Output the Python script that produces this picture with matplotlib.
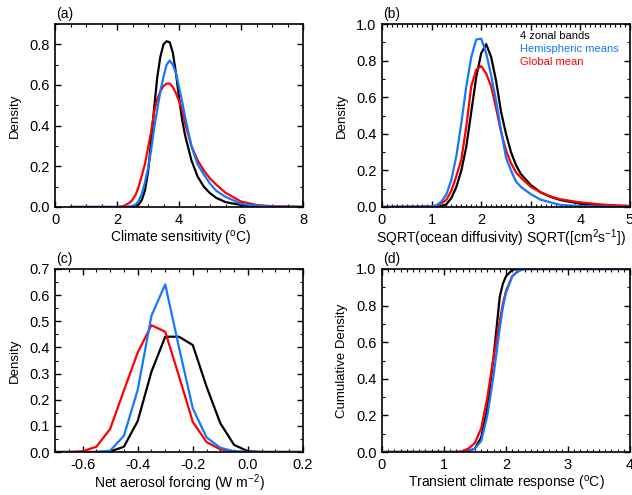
import matplotlib
matplotlib.use('Agg')
import matplotlib.pyplot as plt
from matplotlib.ticker import MultipleLocator, FormatStrFormatter

plt.rcParams['font.family'] = ['Liberation Sans', 'DejaVu Sans']
plt.rcParams['mathtext.fontset'] = 'custom'
plt.rcParams['mathtext.rm'] = 'Liberation Sans'
plt.rcParams['mathtext.it'] = 'Liberation Sans'
plt.rcParams['mathtext.default'] = 'regular'
plt.rcParams['axes.unicode_minus'] = False

BLACK = 'black'
BLUE = '#1478ff'
RED = '#ff0000'

# (a) climate sensitivity pdf
cs_x = [0.5, 2.0, 2.2, 2.4, 2.5, 2.6, 2.7, 2.8, 2.9, 3.0, 3.1, 3.2, 3.3, 3.4, 3.5, 3.6, 3.7, 3.8,
        3.9, 4.0, 4.1, 4.2, 4.4, 4.6, 4.8, 5.0, 5.2, 5.5, 6.0, 6.5, 7.0, 8.0]
cs_zonal = [0, 0, 0, 0, 0.001, 0.004, 0.012, 0.035, 0.08, 0.17, 0.32, 0.49, 0.64, 0.74, 0.80, 0.815, 0.81, 0.76,
            0.66, 0.54, 0.43, 0.35, 0.23, 0.15, 0.1, 0.068, 0.045, 0.024, 0.01, 0.004, 0.001, 0]
cs_hemi = [0, 0, 0, 0.002, 0.005, 0.012, 0.03, 0.065, 0.12, 0.19, 0.28, 0.39, 0.48, 0.57, 0.64, 0.70, 0.72, 0.70,
           0.66, 0.59, 0.52, 0.44, 0.30, 0.21, 0.16, 0.115, 0.08, 0.05, 0.016, 0.006, 0.002, 0]
cs_global = [0, 0, 0.004, 0.02, 0.035, 0.06, 0.1, 0.155, 0.21, 0.29, 0.37, 0.47, 0.53, 0.57, 0.595, 0.607, 0.607, 0.59,
             0.56, 0.52, 0.48, 0.41, 0.30, 0.23, 0.18, 0.14, 0.11, 0.07, 0.027, 0.01, 0.004, 0.001]

# (b) sqrt ocean diffusivity pdf
kv_x = [0.05, 1.0, 1.1, 1.2, 1.3, 1.4, 1.5, 1.6, 1.7, 1.8, 1.9, 2.0, 2.1, 2.2, 2.3, 2.4, 2.5, 2.6,
        2.7, 2.8, 3.0, 3.2, 3.4, 3.6, 4.0, 4.5, 5.0]
kv_zonal = [0, 0, 0.002, 0.005, 0.015, 0.05, 0.11, 0.2, 0.33, 0.52, 0.71, 0.84, 0.89, 0.82, 0.69, 0.52, 0.40, 0.30,
            0.23, 0.18, 0.12, 0.08, 0.055, 0.038, 0.018, 0.007, 0.003]
kv_hemi = [0, 0.003, 0.01, 0.03, 0.07, 0.15, 0.28, 0.46, 0.66, 0.82, 0.915, 0.92, 0.84, 0.72, 0.58, 0.42, 0.27, 0.20,
           0.14, 0.11, 0.07, 0.04, 0.025, 0.011, 0.005, 0.002, 0]
kv_global = [0, 0.003, 0.008, 0.02, 0.04, 0.09, 0.17, 0.26, 0.44, 0.66, 0.75, 0.77, 0.73, 0.66, 0.54, 0.41, 0.31, 0.24,
             0.19, 0.16, 0.11, 0.08, 0.058, 0.042, 0.025, 0.012, 0.006]

# (c) net aerosol forcing pdf
af_x = [-0.7, -0.65, -0.6, -0.55, -0.5, -0.45, -0.4, -0.35, -0.3, -0.25, -0.2, -0.15, -0.1, -0.05, 0.0,
        0.05, 0.1, 0.15, 0.2]
af_zonal = [0, 0, 0, 0, 0.002, 0.02, 0.118, 0.307, 0.441, 0.441, 0.409, 0.25, 0.11, 0.027, 0.003,
            0, 0, 0, 0]
af_hemi = [0, 0, 0, 0, 0.005, 0.062, 0.237, 0.521, 0.641, 0.40, 0.167, 0.056, 0.016, 0.003, 0,
           0, 0, 0, 0]
af_global = [0, 0, 0.003, 0.02, 0.088, 0.235, 0.38, 0.485, 0.46, 0.29, 0.115, 0.038, 0.01, 0.002, 0,
             0, 0, 0, 0]

# (d) transient climate response cdf
tcr_x = [0.05, 1.2, 1.3, 1.4, 1.5, 1.6, 1.7, 1.8, 1.9, 1.95, 2.0, 2.1, 2.2, 2.3, 2.4, 4.0]
tcr_zonal = [0, 0, 0, 0.005, 0.02, 0.08, 0.24, 0.52, 0.85, 0.92, 0.96, 0.995, 1.0, 1.0, 1.0, 1.0]
tcr_hemi = [0, 0, 0, 0.003, 0.02, 0.06, 0.2, 0.42, 0.68, 0.79, 0.87, 0.96, 0.99, 1.0, 1.0, 1.0]
tcr_global = [0, 0, 0.005, 0.02, 0.05, 0.13, 0.3, 0.52, 0.72, 0.81, 0.88, 0.96, 0.99, 1.0, 1.0, 1.0]

legend_names = ['4 zonal bands', 'Hemispheric means', 'Global mean']

fig = plt.figure(figsize=(6.32, 4.95), dpi=100)
W, H = 632.0, 495.0
axa = fig.add_axes([55 / W, (H - 207) / H, 248 / W, 183 / H])
axb = fig.add_axes([382 / W, (H - 207) / H, 248 / W, 183 / H])
axc = fig.add_axes([55 / W, (H - 452) / H, 248 / W, 183 / H])
axd = fig.add_axes([382 / W, (H - 452) / H, 248 / W, 183 / H])

panels = [
    (axa, cs_x, cs_zonal, cs_hemi, cs_global, (0, 8), (0, 0.9), 2, 0.5, 0.2, 0.1, '%d', '%.1f',
     'Climate sensitivity ($^{\\mathrm{o}}$C)', 'Density', '(a)', 0.505),
    (axb, kv_x, kv_zonal, kv_hemi, kv_global, (0, 5), (0, 1.0), 1, 0.1, 0.2, 0.1, '%d', '%.1f',
     'SQRT(ocean diffusivity) SQRT([cm$^{2}$s$^{-1}$])', 'Density', '(b)', 0.478),
    (axc, af_x, af_zonal, af_hemi, af_global, (-0.7, 0.2), (0, 0.7), 0.2, 0.05, 0.1, 0.05, '%.1f', '%.1f',
     'Net aerosol forcing (W m$^{-2}$)', 'Density', '(c)', 0.5),
    (axd, tcr_x, tcr_zonal, tcr_hemi, tcr_global, (0, 4), (0, 1.0), 1, 0.1, 0.2, 0.1, '%d', '%.1f',
     'Transient climate response ($^{\\mathrm{o}}$C)', 'Cumulative Density', '(d)', 0.5),
]

for (ax, x, yz, yh, yg, xl, yl, xmaj, xmin, ymaj, ymin, xf, yf, xlab, ylab, tag, xlx) in panels:
    ax.plot(x, yz, color=BLACK, lw=1.6, label=legend_names[0])
    ax.plot(x, yg, color=RED, lw=1.6, label=legend_names[2])
    ax.plot(x, yh, color=BLUE, lw=1.6, label=legend_names[1])
    ax.set_xlim(*xl)
    ax.set_ylim(*yl)
    ax.xaxis.set_major_locator(MultipleLocator(xmaj))
    ax.xaxis.set_minor_locator(MultipleLocator(xmin))
    ax.yaxis.set_major_locator(MultipleLocator(ymaj))
    ax.yaxis.set_minor_locator(MultipleLocator(ymin))
    ax.xaxis.set_major_formatter(FormatStrFormatter(xf))
    ax.yaxis.set_major_formatter(FormatStrFormatter(yf))
    ax.tick_params(which='both', direction='in', top=True, right=True, labelsize=10.5)
    ax.tick_params(which='major', length=4, width=1.0, pad=4)
    ax.tick_params(which='minor', length=2, width=0.8)
    for s in ax.spines.values():
        s.set_linewidth(1.2)
    ax.set_xlabel(xlab, fontsize=10, va='center')
    ax.set_ylabel(ylab, fontsize=9.5, va='center')
    ax.xaxis.set_label_coords(xlx, -0.17)
    ax.yaxis.set_label_coords(-0.162, 0.5)
    ax.text(0.004, 1.055, tag, transform=ax.transAxes, fontsize=10, va='center', ha='left')

# text legend in panel (b)
for name, col, yy in zip(legend_names, [BLACK, BLUE, RED], [0.934, 0.862, 0.794]):
    axb.text(0.558, yy, name, color=col, fontsize=8, transform=axb.transAxes, va='center', ha='left')

fig.savefig('out.png', dpi=100)
